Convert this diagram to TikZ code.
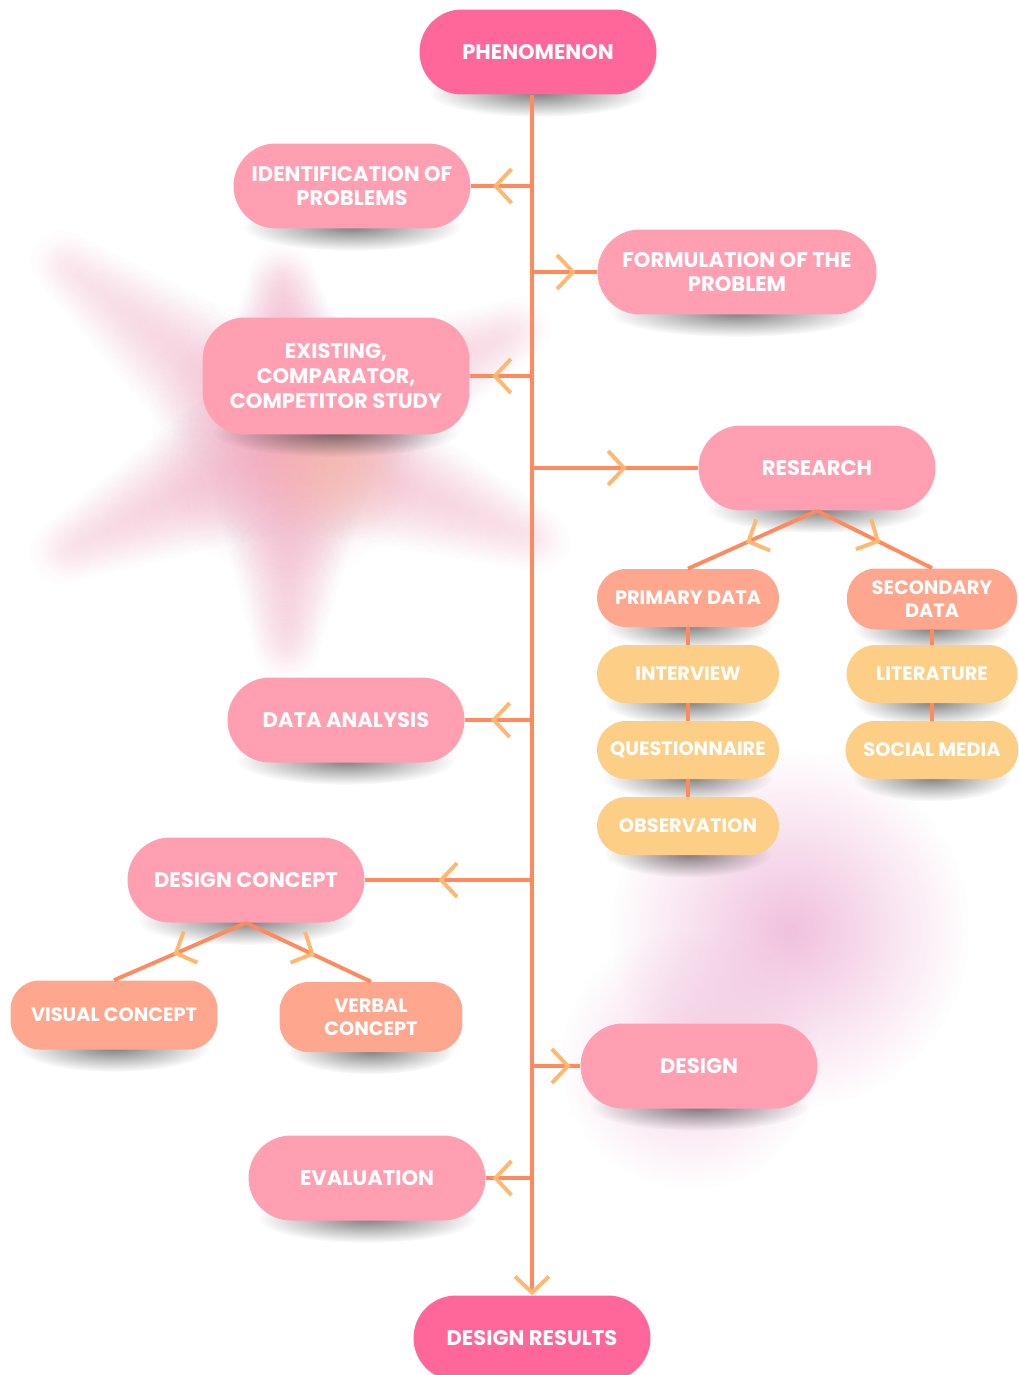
\documentclass[tikz,border=0pt]{standalone}
\usepackage{fontspec}
\setmainfont{Poppins}
\usetikzlibrary{arrows.meta,decorations.markings,fadings,backgrounds,calc}

\definecolor{hotpink}{HTML}{FF6699}
\definecolor{softpink}{HTML}{FF9FB1}
\definecolor{salmon}{HTML}{FFA78E}
\definecolor{sand}{HTML}{FDCF86}
\definecolor{coral}{HTML}{FF8A5E}
\definecolor{chev}{HTML}{FFB870}
\definecolor{haze}{HTML}{F2A3BD}
\definecolor{peach}{HTML}{F8C2A0}
\definecolor{lilac}{HTML}{EBA6CF}
\definecolor{shadowink}{HTML}{3A3A3A}

\tikzfading[name=haze fade, inner color=transparent!50, outer color=transparent!100]
\tikzfading[name=arm fade, inner color=transparent!84, outer color=transparent!100]
\tikzfading[name=lilac fade, inner color=transparent!30, outer color=transparent!100]
\tikzfading[name=shadow fade, inner color=transparent!35, outer color=transparent!100]

\tikzset{
  chevtip/.tip={Straight Barb[length=3.2mm, width=6.8mm, line width=2.2pt, color=chev]},
  pill/.style={rectangle, rounded corners=0.85cm, fill=softpink, text=white, align=center,
    font=\bfseries\fontsize{12}{14}\selectfont, inner sep=0pt,
    minimum height=1.7cm, minimum width=4.74cm},
  endpill/.style={pill, fill=hotpink},
  subpill/.style={pill, fill=salmon, rounded corners=0.58cm, minimum height=1.16cm, minimum width=3.64cm,
    font=\bfseries\fontsize{11}{13}\selectfont},
  itempill/.style={subpill, fill=sand},
  link/.style={draw=coral, line width=2.2pt},
  midarrow/.style={link, postaction={decorate},
    decoration={markings, mark=at position #1 with {\arrow{chevtip}}}},
  midarrow/.default=0.5
}

\begin{document}
\begin{tikzpicture}[x=0.02cm, y=-0.02cm]
  \useasboundingbox (0,0) rectangle (1018,1375);

  % nodes
  \node[endpill] (phen) at (538,52) {PHENOMENON};
  \node[pill] (ident) at (352,186) {IDENTIFICATION OF\\PROBLEMS};
  \node[pill, minimum width=5.58cm] (formul) at (737,272) {FORMULATION OF THE\\PROBLEM};
  \node[pill, minimum width=5.34cm, minimum height=2.34cm] (exist) at (336,376) {EXISTING,\\COMPARATOR,\\COMPETITOR STUDY};
  \node[pill] (research) at (817,468) {RESEARCH};
  \node[subpill] (primary) at (688,598) {PRIMARY DATA};
  \node[subpill, minimum width=3.4cm, minimum height=1.22cm] (secondary) at (932,599) {SECONDARY\\DATA};
  \node[itempill] (interview) at (688,674) {INTERVIEW};
  \node[itempill] (quest) at (688,750) {QUESTIONNAIRE};
  \node[itempill] (observ) at (688,826) {OBSERVATION};
  \node[itempill, minimum width=3.42cm] (lit) at (932,674) {LITERATURE};
  \node[itempill, minimum width=3.46cm] (social) at (932,750) {SOCIAL MEDIA};
  \node[pill] (analysis) at (346,720) {DATA ANALYSIS};
  \node[pill] (concept) at (246,880) {DESIGN CONCEPT};
  \node[subpill, minimum width=4.14cm, minimum height=1.38cm] (visual) at (114,1015) {VISUAL CONCEPT};
  \node[subpill, minimum width=3.66cm, minimum height=1.4cm] (verbal) at (371,1017) {VERBAL\\CONCEPT};
  \node[pill] (design) at (699,1066) {DESIGN};
  \node[pill] (eval) at (367,1178) {EVALUATION};
  \node[endpill] (results) at (532,1338) {DESIGN RESULTS};

  % trunk and branches
  \coordinate (trunk) at (results.north |- phen.south);
  \draw[link, -chevtip] (trunk) -- (results.north);
  \draw[midarrow=0.64] (trunk |- ident.east) -- (ident.east);
  \draw[midarrow=0.67] (trunk |- formul.west) -- (formul.west);
  \draw[midarrow=0.64] (trunk |- exist.east) -- (exist.east);
  \draw[midarrow=0.57] (trunk |- research.west) -- (research.west);
  \draw[midarrow=0.61] (trunk |- analysis.east) -- (analysis.east);
  \draw[midarrow=0.56] (trunk |- concept.east) -- (concept.east);
  \draw[midarrow=0.8] (trunk |- design.west) -- (design.west);
  \draw[midarrow=0.85] (trunk |- eval.east) -- (eval.east);

  \draw[midarrow=0.55] (research.south) -- (primary.north);
  \draw[midarrow=0.55] (research.south) -- (secondary.north);
  \draw[link] (primary.south) -- (interview.north);
  \draw[link] (interview.south) -- (quest.north);
  \draw[link] (quest.south) -- (observ.north);
  \draw[link] (secondary.south) -- (lit.north);
  \draw[link] (lit.south) -- (social.north);

  \draw[midarrow=0.55] (concept.south) -- (visual.north);
  \draw[midarrow=0.55] (concept.south) -- (verbal.north);

  % haze and shadows behind everything
  \begin{scope}[on background layer]
    \fill[white] (0,0) rectangle (1018,1375);
    \begin{scope}[shift={(290,440)}, x=1cm, y=1cm]
      \fill[haze, path fading=haze fade] (0,0) circle (2.8);
      \foreach \ang/\len in {142/6.6, 93/3.8, 26/5.8, -22/6.1, -91/4.8, -154/5.8}
        \foreach \f in {0.1,0.16,...,0.88} {
          \pgfmathsetmacro\r{1.8-1.3*\f}
          \fill[haze, path fading=arm fade] (\ang:{\f*\len}) circle (\r);
        }
      \fill[peach, path fading=haze fade] (0.8,-0.5) circle (1.6);
    \end{scope}
    \begin{scope}[shift={(790,930)}, x=1cm, y=1cm]
      \fill[lilac, path fading=lilac fade] (0,0) circle (3.6);
      \fill[lilac, path fading=haze fade] (-2,-2.6) circle (2.6);
    \end{scope}
    \foreach \nd in {phen,ident,formul,exist,research,primary,secondary,interview,quest,
                     observ,lit,social,analysis,concept,visual,verbal,design,eval,results}
      \fill[shadowink, path fading=shadow fade]
        let \p1 = ($(\nd.east)-(\nd.west)$) in
        ($(\nd.south)+(0,-2)$) ellipse [x radius=0.46*\x1, y radius=0.48cm];
  \end{scope}
\end{tikzpicture}
\end{document}
